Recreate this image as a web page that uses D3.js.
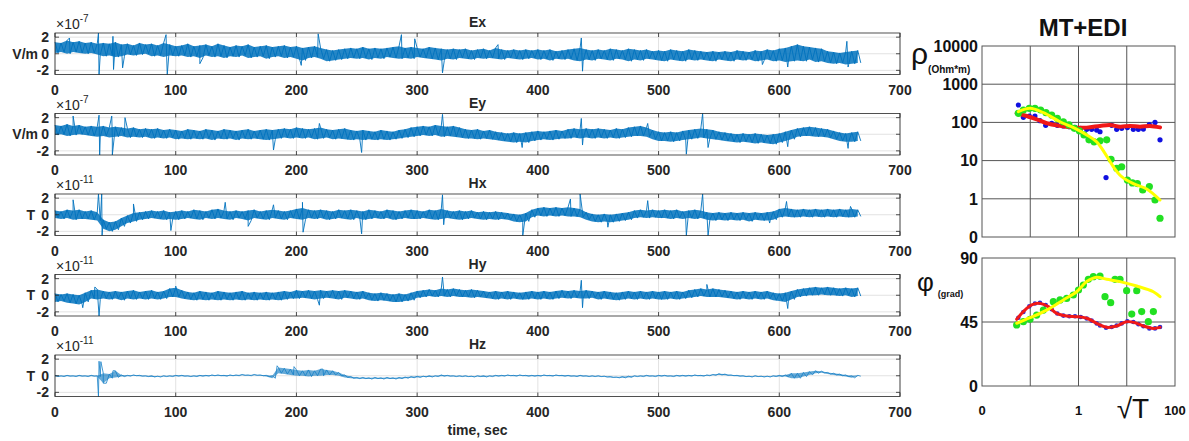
<!DOCTYPE html>
<html>
<head>
<meta charset="utf-8">
<script src="https://cdn.jsdelivr.net/npm/d3@7"></script>
<style>
body { margin: 0; background: #fff; }
svg { display: block; font-family: "Liberation Sans", Arial, sans-serif; }
</style>
</head>
<body>
<svg id="chart" width="1189" height="441"></svg>
<script>
// ---- time series: min / max of the trace in 5 s bins (x1e-7 V/m, x1e-11 T) ----
const binStep = 5;
const binTimes = d3.range(0, 670, binStep);

const exHi = [1.4,1.3,1.6,1.4,1.5,1.3,1.4,1.2,1.3,1.2, 1.4,1.1,1.2,1.0,1.3,1.1,1.2,1.0,1.3,1.1,
  0.9,1.0,1.2,0.9,1.0,1.1,0.9,1.2,1.0,0.8, 1.0,0.9,1.1,0.8,0.9,1.0,0.8,0.9,1.0,0.8,
  0.9,0.7,0.8,0.9,0.7,0.5,0.4,0.5,0.6,0.7, 0.6,0.8,0.6,0.7,0.6,0.7,0.8,0.9,0.7,0.8,
  0.7,0.6,0.8,0.7,0.6,0.5,0.6,0.5,0.6,0.4, 0.5,0.6,0.4,0.7,0.5,0.4,0.5,0.4,0.5,0.4,
  0.5,0.4,0.5,0.3,0.4,0.5,0.6,0.7,0.5,0.4, 0.5,0.4,0.6,0.5,0.4,0.6,0.5,0.4,0.5,0.3,
  0.4,0.3,0.5,0.4,0.3,0.5,0.4,0.3,0.2,0.3, 0.2,0.3,0.2,0.4,0.3,0.2,0.4,0.3,0.5,0.4,
  0.6,0.7,0.9,1.1,0.9,0.8,0.7,0.6,0.3,0.2, 0.1,0.2,0.3,0.4];
const exLo = [0.1,0.2,0.0,0.2,0.1,0.0,0.1,-0.1,-0.3,-0.2, -0.4,-0.3,-0.1,-0.2,-0.1,0.0,-0.3,-0.2,-0.4,-0.2,
  -0.3,-0.2,-0.4,-0.3,-0.5,-0.2,-0.4,-0.3,-0.5,-0.3, -0.4,-0.2,-0.5,-0.4,-0.3,-0.6,-0.4,-0.3,-0.5,-0.4,
  -0.6,-0.8,-0.5,-0.4,-0.6,-0.9,-0.8,-0.7,-0.6,-0.5, -0.6,-0.5,-0.7,-0.5,-0.6,-0.4,-0.5,-0.6,-0.5,-0.6,
  -0.4,-0.5,-0.6,-0.7,-0.8,-0.6,-0.7,-0.5,-0.6,-0.7, -0.5,-0.6,-0.5,-0.6,-0.7,-0.5,-0.6,-0.7,-0.6,-0.5,
  -0.7,-0.6,-0.8,-0.6,-0.7,-0.6,-0.8,-0.9,-0.7,-0.8, -0.6,-0.7,-0.8,-0.6,-0.7,-0.9,-0.7,-0.8,-0.6,-0.7,
  -0.8,-0.9,-0.7,-0.8,-0.9,-0.7,-0.8,-0.7,-0.8,-0.9, -0.7,-0.8,-0.9,-0.7,-0.8,-0.7,-0.9,-0.8,-0.7,-0.9,
  -0.8,-1.0,-0.9,-0.8,-0.9,-0.7,-1.0,-0.9,-1.1,-1.2, -1.1,-1.3,-1.2,-1.1];
const exSpikes = [[12,1.9],[36,2.5],[36.5,-2.5],[48,2.1],[48.5,-1.9],[56,-1.7],[92,2.3],[93,-2.5],
  [120,-1.2],[204,-1.4],[218,2.4],[287,2.3],[298,1.8],[321,-2.3],[367,1.1],[436,1.9],[437,-2.1],
  [586,-1.3],[607,-1.6],[656,1.5],[657,-1.6]];

const eyHi = [1.1,1.0,1.2,1.0,1.1,0.9,1.0,0.9,1.0,0.8, 0.9,0.8,0.7,0.8,0.6,0.7,0.6,0.7,0.5,0.6,
  0.5,0.4,0.6,0.5,0.4,0.6,0.5,0.4,0.6,0.5, 0.4,0.5,0.6,0.4,0.5,0.6,0.5,0.6,0.7,0.6,
  0.8,0.7,0.6,0.7,0.8,0.6,0.5,0.6,0.7,0.5, 0.4,0.5,0.4,0.3,0.5,0.4,0.3,0.5,0.6,0.8,
  0.9,1.0,0.9,1.1,1.0,0.9,1.0,0.8,0.6,0.5, 0.6,0.4,0.5,0.3,0.2,0.1,0.2,0.1,0.2,0.3,
  0.4,0.3,0.4,0.5,0.4,0.6,0.7,0.6,0.7,0.6, 0.7,0.6,0.5,0.7,0.6,0.8,0.9,1.0,0.8,0.5,
  0.3,0.2,0.3,0.2,0.4,0.5,0.6,0.7,0.6,0.5, 0.3,0.2,0.1,0.0,0.1,0.0,0.1,0.0,-0.1,0.0,
  0.1,0.3,0.5,0.7,0.8,0.9,0.8,0.7,0.6,0.4, 0.2,0.1,0.2,0.3];
const eyLo = [-0.1,0.0,-0.2,-0.1,0.0,-0.1,-0.2,-0.3,-0.2,-0.4, -0.3,-0.2,-0.4,-0.3,-0.4,-0.3,-0.5,-0.4,-0.5,-0.4,
  -0.6,-0.5,-0.6,-0.5,-0.6,-0.5,-0.7,-0.5,-0.6,-0.5, -0.7,-0.5,-0.6,-0.5,-0.6,-0.7,-0.6,-0.5,-0.4,-0.5,
  -0.4,-0.5,-0.4,-0.6,-0.5,-0.4,-0.6,-0.5,-0.6,-0.7, -0.6,-0.7,-0.6,-0.7,-0.6,-0.7,-0.6,-0.5,-0.4,-0.3,
  -0.2,-0.1,-0.2,-0.1,-0.3,-0.2,-0.3,-0.4,-0.5,-0.5, -0.6,-0.5,-0.6,-0.7,-0.8,-0.9,-1.0,-0.9,-1.0,-0.8,
  -0.7,-0.6,-0.7,-0.6,-0.5,-0.5,-0.4,-0.5,-0.4,-0.5, -0.4,-0.5,-0.4,-0.5,-0.4,-0.3,-0.2,-0.2,-0.3,-0.6,
  -0.8,-0.8,-0.9,-0.8,-0.7,-0.6,-0.5,-0.4,-0.5,-0.6, -0.7,-0.8,-0.9,-1.0,-0.9,-1.0,-1.1,-1.0,-1.1,-1.2,
  -1.0,-0.8,-0.6,-0.3,-0.2,-0.2,-0.3,-0.3,-0.4,-0.6, -0.8,-0.9,-0.9,-0.8];
const eySpikes = [[15,2.2],[36.5,2.3],[37,-2.5],[47,2.2],[47.5,-2.5],[58,2.0],[181,-1.9],[219,1.3],
  [254,-2.2],[321,2.4],[387,-1.6],[436,1.9],[437,-1.3],[491,1.3],[523,-2.4],[536.5,2.5],[541,-1.6],
  [607,-1.5],[657,-1.7]];

const hxHi = [0.5,0.4,0.6,0.5,0.6,0.4,0.5,0.3,-0.6,-0.9, -0.8,-0.4,-0.1,0.2,0.3,0.4,0.5,0.4,0.5,0.3,
  0.4,0.5,0.4,0.6,0.5,0.4,0.6,0.7,0.5,0.4, 0.5,0.4,0.5,0.6,0.4,0.5,0.6,0.5,0.4,0.5,
  0.7,0.8,0.6,0.5,0.6,0.5,0.4,0.6,0.5,0.6, 0.5,0.4,0.6,0.5,0.4,0.6,0.5,0.4,0.5,0.6,
  0.5,0.4,0.6,0.5,0.7,0.5,0.4,0.5,0.4,0.5, 0.3,0.4,0.3,0.4,0.3,0.2,0.1,0.0,0.2,0.6,
  0.8,0.9,0.8,0.9,0.8,0.9,0.8,0.7,0.3,0.1, 0.0,0.1,0.0,0.1,0.2,0.3,0.5,0.6,0.5,0.6,
  0.5,0.6,0.5,0.6,0.4,0.5,0.6,0.5,0.3,0.2, 0.3,0.2,0.3,0.2,0.3,0.2,0.3,0.2,0.3,0.4,
  0.7,0.8,0.7,0.6,0.7,0.6,0.7,0.6,0.7,0.6, 0.7,0.6,0.7,0.6];
const hxLo = [-0.4,-0.5,-0.4,-0.6,-0.5,-0.5,-0.6,-0.7,-1.7,-2.0, -1.8,-1.4,-1.0,-0.8,-0.6,-0.5,-0.4,-0.5,-0.6,-0.5,
  -0.6,-0.5,-0.4,-0.5,-0.6,-0.4,-0.5,-0.4,-0.5,-0.6, -0.4,-0.5,-0.7,-0.4,-0.5,-0.6,-0.4,-0.5,-0.6,-0.4,
  -0.5,-0.6,-0.4,-0.5,-0.4,-0.6,-0.5,-0.4,-0.5,-0.6, -0.4,-0.6,-0.5,-0.4,-0.5,-0.4,-0.6,-0.5,-0.4,-0.5,
  -0.5,-0.4,-0.5,-0.6,-0.5,-0.4,-0.5,-0.6,-0.5,-0.4, -0.5,-0.6,-0.5,-0.6,-0.5,-0.6,-0.8,-0.9,-0.8,-0.3,
  -0.1,-0.2,-0.1,-0.2,-0.1,-0.2,-0.2,-0.3,-0.6,-0.8, -0.9,-0.8,-0.9,-0.8,-0.7,-0.6,-0.4,-0.3,-0.4,-0.3,
  -0.4,-0.4,-0.5,-0.4,-0.5,-0.4,-0.5,-0.4,-0.6,-0.7, -0.6,-0.7,-0.6,-0.7,-0.6,-0.8,-0.6,-0.7,-0.7,-0.6,
  -0.3,-0.2,-0.3,-0.3,-0.2,-0.3,-0.2,-0.3,-0.2,-0.3, -0.2,-0.3,-0.3,-0.2];
const hxSpikes = [[15,1.8],[36,2.5],[38.7,2.5],[39,-2.5],[65,1.3],[96,-1.9],[141,1.5],[160,-1.4],
  [181,1.2],[205,1.5],[205.5,-2.1],[254,-2.3],[321,2.4],[322,-1.2],[387.5,-2.5],[427,1.9],[435,2.5],
  [458,-1.5],[491,1.7],[523,-2.5],[536.5,2.5],[541,-2.5],[592,-1.0],[606,1.6],[659,1.0]];

const hyHi = [0.2,0.1,0.2,0.1,0.0,0.3,0.6,0.7,0.5,0.4, 0.5,0.4,0.5,0.6,0.4,0.5,0.6,0.4,0.5,0.8,
  0.9,0.6,0.4,0.3,0.5,0.4,0.3,0.5,0.4,0.3, 0.4,0.5,0.3,0.4,0.3,0.4,0.3,0.4,0.5,0.4,
  0.6,0.5,0.6,0.5,0.6,0.5,0.6,0.5,0.6,0.5, 0.4,0.5,0.3,0.2,0.3,0.2,0.1,0.2,0.1,0.3,
  0.5,0.6,0.7,0.6,0.8,0.7,0.8,0.7,0.6,0.7, 0.6,0.5,0.4,0.5,0.4,0.5,0.4,0.3,0.4,0.5,
  0.4,0.5,0.4,0.5,0.6,0.5,0.6,0.5,0.6,0.5, 0.4,0.5,0.4,0.3,0.4,0.5,0.4,0.5,0.4,0.5,
  0.4,0.5,0.4,0.5,0.4,0.6,0.7,0.8,0.7,0.8, 0.7,0.6,0.5,0.4,0.5,0.4,0.5,0.4,0.5,0.3,
  0.2,0.3,0.5,0.7,0.8,0.9,1.0,0.9,1.0,0.9, 0.8,0.9,0.8,0.9];
const hyLo = [-0.8,-0.7,-0.9,-1.0,-1.1,-0.8,-0.4,-0.5,-0.4,-0.5, -0.4,-0.6,-0.4,-0.5,-0.4,-0.5,-0.4,-0.5,-0.4,-0.2,
  -0.2,-0.4,-0.5,-0.6,-0.5,-0.6,-0.5,-0.6,-0.5,-0.6, -0.5,-0.6,-0.5,-0.6,-0.5,-0.6,-0.5,-0.6,-0.5,-0.4,
  -0.4,-0.3,-0.4,-0.5,-0.4,-0.3,-0.4,-0.5,-0.3,-0.4, -0.5,-0.4,-0.6,-0.7,-0.6,-0.7,-0.8,-0.8,-0.7,-0.6,
  -0.3,-0.2,-0.1,-0.2,-0.1,-0.2,-0.1,-0.2,-0.2,-0.3, -0.2,-0.3,-0.4,-0.5,-0.4,-0.5,-0.4,-0.5,-0.5,-0.4,
  -0.5,-0.4,-0.5,-0.4,-0.3,-0.4,-0.3,-0.4,-0.4,-0.3, -0.5,-0.4,-0.5,-0.6,-0.5,-0.4,-0.5,-0.4,-0.5,-0.4,
  -0.5,-0.5,-0.4,-0.5,-0.4,-0.3,-0.2,-0.1,-0.2,-0.2, -0.2,-0.3,-0.4,-0.5,-0.4,-0.5,-0.4,-0.5,-0.4,-0.6,
  -0.7,-0.8,-0.5,-0.2,-0.1,0.0,0.0,0.1,0.0,0.0, -0.1,0.0,-0.2,-0.1];
const hySpikes = [[23,-1.5],[33,1.0],[36.5,-2.5],[100,1.1],[219,-1.2],[321,2.2],[436,1.8],[437,-1.5],
  [540,1.3],[607,-1.6]];

const hzHi = [0.05,0.0,0.05,0.0,0.05,0.0,0.05,0.0,0.3,0.2, 0.6,0.1,0.05,0.1,0.05,0.0,0.0,-0.05,0.0,0.0,
  0.05,0.05,0.0,0.0,0.05,0.05,0.1,0.1,0.05,0.1, 0.1,0.15,0.1,0.15,0.1,0.05,0.0,1.0,0.9,0.8,
  0.7,0.6,0.7,0.6,0.8,0.7,0.6,0.4,0.1,-0.1, -0.2,-0.2,-0.25,-0.2,-0.25,-0.2,-0.25,-0.2,-0.15,-0.1,
  -0.05,-0.05,0.0,0.0,0.1,0.05,0.0,0.0,0.0,-0.05, 0.0,0.0,0.0,0.05,0.05,0.1,0.05,0.1,0.05,0.05,
  0.05,0.1,0.05,0.1,0.05,0.05,0.0,0.05,0.0,0.0, 0.0,-0.05,-0.1,-0.15,-0.1,-0.05,0.0,0.0,0.05,0.0,
  0.05,0.05,0.0,0.05,0.05,0.05,0.1,0.05,0.1,0.15, 0.25,0.2,0.1,0.05,0.0,-0.05,0.0,-0.05,-0.05,0.0,
  0.05,0.1,0.3,0.3,0.4,0.5,0.6,0.55,0.4,0.3, 0.2,0.1,0.0,0.05];
const hzLo = [-0.1,-0.1,-0.05,-0.1,-0.05,-0.1,-0.05,-0.1,-0.9,-0.3, -0.2,-0.1,-0.05,0.0,-0.05,-0.1,-0.15,-0.15,-0.1,-0.1,
  -0.05,-0.05,-0.1,-0.1,-0.05,-0.05,0.0,0.0,-0.05,0.0, 0.0,0.05,0.0,0.05,0.0,-0.1,-0.3,0.3,0.2,0.1,
  0.0,0.0,-0.1,0.0,0.0,0.1,0.1,0.0,-0.2,-0.3, -0.35,-0.35,-0.4,-0.35,-0.4,-0.35,-0.4,-0.35,-0.3,-0.25,
  -0.2,-0.15,-0.15,-0.1,-0.05,-0.05,-0.1,-0.1,-0.1,-0.15, -0.1,-0.15,-0.1,-0.05,-0.05,0.0,-0.05,0.0,-0.05,-0.05,
  -0.05,0.0,-0.05,0.0,-0.05,-0.05,-0.1,-0.05,-0.1,-0.1, -0.1,-0.15,-0.2,-0.25,-0.25,-0.2,-0.1,-0.1,-0.05,-0.1,
  -0.05,-0.05,-0.1,-0.05,-0.05,-0.05,0.0,-0.05,0.0,0.05, 0.1,0.05,0.0,-0.05,-0.1,-0.15,-0.1,-0.15,-0.15,-0.1,
  -0.1,-0.1,-0.3,-0.3,-0.1,0.1,0.3,0.35,0.2,0.1, 0.0,-0.1,-0.25,-0.05];
const hzSpikes = [[36,-2.5],[36.5,1.75],[38,1.7],[40,-0.9],[48,0.6],[184,1.2],[198,1.1],[222,0.8]];

const timeTicks = [0, 100, 200, 300, 400, 500, 600, 700];
const ampTicks = [2, 0, -2];

// ---- MT + EDI sounding curves (x = sqrt(T)) ----
const rhoBlue = [[0.0566,285],[0.072,136],[0.0957,147],[0.125,147],[0.159,111],[0.209,84],[0.278,95],
  [0.364,84],[0.485,81],[0.645,77],[0.846,74],[1.11,70],[1.48,66],[1.87,66],[2.38,63],[2.79,57],
  [3.72,3.6],[4.87,84],[6.18,66],[7.85,70],[10.3,73],[13.7,66],[17.4,66],[22.1,67],[29.4,87],
  [38.5,100],[48.9,35]];
const rhoRed = [[0.0523,173],[0.0843,147],[0.136,120],[0.219,95],[0.414,81],[0.782,73],[1.48,73],
  [2.79,81],[4.5,86],[7.25,77],[11.7,81],[18.8,77],[30.3,81],[48.9,74]];
const rhoGreen = [[0.0566,173],[0.072,211],[0.0957,234],[0.125,234],[0.164,211],[0.212,180],[0.278,156],
  [0.364,128],[0.485,104],[0.635,86],[0.821,70],[1.04,60],[1.3,47],[1.65,35],[2.1,31],[2.79,33],
  [3.84,35],[4.72,10.8],[6.18,6.3],[7.85,6.9],[10.3,3.1],[13.1,2.6],[16.6,2.5],[21.4,1.7],[29.4,2.1],
  [38.5,0.93],[48.9,0.31]];
const rhoYellow = [[0.0566,191],[0.0989,234],[0.187,180],[0.414,104],[0.846,70],[1.48,47],[2.38,31],
  [3.54,15.5],[5.27,6.9],[7.85,3.8],[13.7,2.5],[25.9,1.8],[48.9,0.93]];

const phiBlue = [[0.0566,48],[0.072,52],[0.0957,56],[0.125,58],[0.159,58.5],[0.209,57],[0.278,54],
  [0.364,51],[0.485,49.5],[0.645,49],[0.846,49],[1.11,48.5],[1.48,47.5],[1.87,46],[2.38,44],
  [2.79,42.5],[3.72,41],[4.87,41.5],[6.18,42.5],[7.85,44],[10.3,45.5],[13.7,45],[17.4,43.5],
  [22.1,42],[29.4,40.5],[38.5,40.5],[48.9,41.5]];
const phiRed = [[0.0523,46.9],[0.072,52.3],[0.107,57],[0.159,58.1],[0.237,55.8],[0.352,51.1],
  [0.569,49.2],[0.916,48.75],[1.48,47.6],[2.38,44.1],[3.84,41.25],[6.18,42.2],[9.95,45.2],
  [14.8,44.5],[22.1,42.2],[35.6,40.5],[48.9,41.25]];
const phiGreen = [[0.0523,42.9],[0.072,45.2],[0.0989,46.9],[0.136,49.9],[0.187,53.4],[0.301,59.3],
  [0.414,60.5],[0.569,61.6],[0.782,64],[1.0,67.5],[1.26,71],[1.6,75],[2.03,76.9],[2.79,77.3],
  [3.54,62.8],[4.64,58.6],[5.71,75],[7.25,75],[9.95,67],[16.1,67],[12.7,50.6],[20.4,52.3],
  [35.6,52.3],[28.0,45.2]];
const phiYellow = [[0.0523,44.1],[0.0989,48],[0.219,53.4],[0.485,60.5],[0.916,66.3],[1.48,73.4],
  [2.38,76.4],[3.84,75],[7.25,73.4],[16.1,70.3],[35.6,66.3],[48.9,62.8]];

const sqrtTGrid = [0.1, 1, 10];
const sqrtTTicks = [0.01, 1, 100];
const sqrtTLabels = ["0", "1", "100"];
const rhoTicks = [0.1, 1, 10, 100, 1000, 10000];
const rhoLabels = ["0", "1", "10", "100", "1000", "10000"];
const phiTicks = [0, 45, 90];

const svg = d3.select("#chart");
const ink = "#262626";
const traceBlue = "#0072BD";

// ---------------- left: five time-series panels ----------------
const panels = [
  { name: "Ex", unit: "V/m", exp: "-7", hi: exHi, lo: exLo, spikes: exSpikes, top: 33 },
  { name: "Ey", unit: "V/m", exp: "-7", hi: eyHi, lo: eyLo, spikes: eySpikes, top: 113.5 },
  { name: "Hx", unit: "T", exp: "-11", hi: hxHi, lo: hxLo, spikes: hxSpikes, top: 194 },
  { name: "Hy", unit: "T", exp: "-11", hi: hyHi, lo: hyLo, spikes: hySpikes, top: 274.5 },
  { name: "Hz", unit: "T", exp: "-11", hi: hzHi, lo: hzLo, spikes: hzSpikes, top: 355, thin: true }
];
const panelH = 41.5;

const x = d3.scaleLinear().domain([0, 700]).range([55, 900]);

panels.forEach(function(p) {
  const top = p.top, bottom = top + panelH;
  const y = d3.scaleLinear().domain([-2.5, 2.5]).range([bottom, top]);
  const g = svg.append("g");

  // grid
  g.selectAll(".vgrid").data(timeTicks).enter().append("line")
    .attr("class", "vgrid")
    .attr("x1", d => x(d)).attr("x2", d => x(d))
    .attr("y1", top).attr("y2", bottom)
    .attr("stroke", "#e2e2e2");
  g.selectAll(".hgrid").data(ampTicks).enter().append("line")
    .attr("class", "hgrid")
    .attr("x1", x(0)).attr("x2", x(700))
    .attr("y1", d => y(d)).attr("y2", d => y(d))
    .attr("stroke", "#e2e2e2");

  // noise band from the bin min/max
  const band = binTimes.map((t, i) => [t, p.hi[i], p.lo[i]]);
  g.append("path")
    .datum(band)
    .attr("fill", traceBlue)
    .attr("fill-opacity", p.thin ? 0.6 : 0.85)
    .attr("d", d3.area().x(d => x(d[0])).y0(d => y(d[2])).y1(d => y(d[1])));

  // trace: zig-zag between bin max and min, spikes merged in time order
  const pts = [];
  binTimes.forEach(function(t, i) {
    pts.push([t, p.hi[i]]);
    pts.push([t + binStep / 2, p.lo[i]]);
  });
  p.spikes.forEach(s => pts.push(s));
  pts.sort((a, b) => a[0] - b[0]);
  g.append("path")
    .datum(pts)
    .attr("fill", "none")
    .attr("stroke", p.thin ? "#1580c8" : traceBlue)
    .attr("stroke-width", p.thin ? 0.8 : 0.9)
    .attr("d", d3.line().x(d => x(d[0])).y(d => y(d[1])));

  // box and inward ticks
  g.append("rect")
    .attr("x", x(0)).attr("y", top)
    .attr("width", x(700) - x(0)).attr("height", panelH)
    .attr("fill", "none").attr("stroke", ink).attr("stroke-width", 0.8);
  timeTicks.forEach(function(t) {
    g.append("line").attr("x1", x(t)).attr("x2", x(t)).attr("y1", bottom).attr("y2", bottom - 4)
      .attr("stroke", ink).attr("stroke-width", 0.8);
    g.append("line").attr("x1", x(t)).attr("x2", x(t)).attr("y1", top).attr("y2", top + 4)
      .attr("stroke", ink).attr("stroke-width", 0.8);
  });
  ampTicks.forEach(function(v) {
    g.append("line").attr("x1", x(0)).attr("x2", x(0) + 4).attr("y1", y(v)).attr("y2", y(v))
      .attr("stroke", ink).attr("stroke-width", 0.8);
    g.append("line").attr("x1", x(700)).attr("x2", x(700) - 4).attr("y1", y(v)).attr("y2", y(v))
      .attr("stroke", ink).attr("stroke-width", 0.8);
  });

  // tick labels
  g.selectAll(".xlab").data(timeTicks).enter().append("text")
    .attr("class", "xlab")
    .attr("x", d => x(d)).attr("y", bottom + 20)
    .attr("text-anchor", "middle")
    .attr("font-size", 14).attr("font-weight", "bold").attr("fill", ink)
    .text(d => d);
  g.selectAll(".ylab").data(ampTicks).enter().append("text")
    .attr("class", "ylab")
    .attr("x", 49).attr("y", d => y(d)).attr("dy", "0.36em")
    .attr("text-anchor", "end")
    .attr("font-size", 14).attr("font-weight", "bold").attr("fill", ink)
    .text(d => d);

  // unit, exponent, title
  g.append("text")
    .attr("x", p.unit === "T" ? 35 : 38).attr("y", y(0)).attr("dy", "0.36em")
    .attr("text-anchor", "end")
    .attr("font-size", 14).attr("font-weight", "bold").attr("fill", ink)
    .text(p.unit);
  const e = g.append("text")
    .attr("x", 56).attr("y", top - 4)
    .attr("font-size", 14).attr("fill", ink);
  e.append("tspan").text("\u00d710");
  e.append("tspan").attr("dy", -7).attr("font-size", 10).text(p.exp);
  g.append("text")
    .attr("x", (x(0) + x(700)) / 2).attr("y", top - 6)
    .attr("text-anchor", "middle")
    .attr("font-size", 14).attr("font-weight", "bold").attr("fill", ink)
    .text(p.name);
});

svg.append("text")
  .attr("x", (x(0) + x(700)) / 2).attr("y", 435)
  .attr("text-anchor", "middle")
  .attr("font-size", 14).attr("font-weight", "bold").attr("fill", ink)
  .text("time, sec");

// ---------------- right: apparent resistivity and phase ----------------
const xT = d3.scaleLog().domain([0.01, 100]).range([982, 1175]);
const yRho = d3.scaleLog().domain([0.1, 10000]).range([237, 46]);
const yPhi = d3.scaleLinear().domain([0, 90]).range([386, 258]);
const gridCol = "#555";

svg.append("text")
  .attr("x", 1083).attr("y", 36)
  .attr("text-anchor", "middle")
  .attr("font-size", 24).attr("font-weight", "bold").attr("fill", "#111")
  .text("MT+EDI");

function frame(yScale, yTicks, yLabels, gridY) {
  const g = svg.append("g");
  const [y0, y1] = yScale.range();
  g.append("rect")
    .attr("x", xT.range()[0]).attr("y", y1)
    .attr("width", xT.range()[1] - xT.range()[0]).attr("height", y0 - y1)
    .attr("fill", "#fff").attr("stroke", gridCol).attr("stroke-width", 1);
  g.selectAll(".gx").data(sqrtTGrid).enter().append("line")
    .attr("x1", d => xT(d)).attr("x2", d => xT(d)).attr("y1", y1).attr("y2", y0)
    .attr("stroke", gridCol).attr("stroke-width", 1);
  g.selectAll(".gy").data(gridY).enter().append("line")
    .attr("x1", xT.range()[0]).attr("x2", xT.range()[1])
    .attr("y1", d => yScale(d)).attr("y2", d => yScale(d))
    .attr("stroke", gridCol).attr("stroke-width", 1);
  g.selectAll(".ly").data(yTicks).enter().append("text")
    .attr("x", 978).attr("y", d => yScale(d)).attr("dy", "0.36em")
    .attr("text-anchor", "end")
    .attr("font-size", 16).attr("font-weight", "bold").attr("fill", "#111")
    .text((d, i) => yLabels[i]);
  return g;
}

// resistivity
const gRho = frame(yRho, rhoTicks, rhoLabels, rhoTicks.slice(1, -1));
const curve = d3.curveCatmullRom.alpha(0.5);
gRho.selectAll(".bd").data(rhoBlue).enter().append("circle")
  .attr("cx", d => xT(d[0])).attr("cy", d => yRho(d[1])).attr("r", 2.6).attr("fill", "#1010e0");
gRho.append("path").datum(rhoRed)
  .attr("fill", "none").attr("stroke", "#f01818").attr("stroke-width", 4)
  .attr("stroke-linecap", "round")
  .attr("d", d3.line().curve(curve).x(d => xT(d[0])).y(d => yRho(d[1])));
gRho.selectAll(".gd").data(rhoGreen).enter().append("circle")
  .attr("cx", d => xT(d[0])).attr("cy", d => yRho(d[1])).attr("r", 3.6).attr("fill", "#22e022");
gRho.append("path").datum(rhoYellow)
  .attr("fill", "none").attr("stroke", "#ffff00").attr("stroke-width", 3)
  .attr("stroke-linecap", "round")
  .attr("d", d3.line().curve(curve).x(d => xT(d[0])).y(d => yRho(d[1])));

// phase
const gPhi = frame(yPhi, phiTicks, phiTicks.map(String), [45]);
gPhi.selectAll(".bd").data(phiBlue).enter().append("circle")
  .attr("cx", d => xT(d[0])).attr("cy", d => yPhi(d[1])).attr("r", 2.3).attr("fill", "#2a2ad8");
gPhi.append("path").datum(phiRed)
  .attr("fill", "none").attr("stroke", "#f01818").attr("stroke-width", 3)
  .attr("stroke-linecap", "round")
  .attr("d", d3.line().curve(curve).x(d => xT(d[0])).y(d => yPhi(d[1])));
gPhi.selectAll(".gd").data(phiGreen).enter().append("circle")
  .attr("cx", d => xT(d[0])).attr("cy", d => yPhi(d[1])).attr("r", 3.6).attr("fill", "#22e022");
gPhi.append("path").datum(phiYellow)
  .attr("fill", "none").attr("stroke", "#ffff00").attr("stroke-width", 3)
  .attr("stroke-linecap", "round")
  .attr("d", d3.line().curve(curve).x(d => xT(d[0])).y(d => yPhi(d[1])));

// x labels under phase panel
svg.selectAll(".tx").data(sqrtTTicks).enter().append("text")
  .attr("x", d => xT(d)).attr("y", 415)
  .attr("text-anchor", "middle")
  .attr("font-size", 13).attr("font-weight", "bold").attr("fill", "#111")
  .text((d, i) => sqrtTLabels[i]);
svg.append("text")
  .attr("x", 1133).attr("y", 418)
  .attr("text-anchor", "middle")
  .attr("font-size", 28).attr("fill", "#111")
  .text("\u221aT");

// axis symbols
const rl = svg.append("text").attr("x", 911).attr("y", 64).attr("fill", "#111");
rl.append("tspan").attr("font-size", 30).text("\u03c1");
rl.append("tspan").attr("font-size", 10).attr("font-weight", "bold").attr("dy", 9).text("(Ohm*m)");
const pl = svg.append("text").attr("x", 917).attr("y", 291).attr("fill", "#111");
pl.append("tspan").attr("font-size", 26).text("\u03c6");
pl.append("tspan").attr("font-size", 9).attr("font-weight", "bold").attr("dx", 4).attr("dy", 6).text("(grad)");
</script>
</body>
</html>
